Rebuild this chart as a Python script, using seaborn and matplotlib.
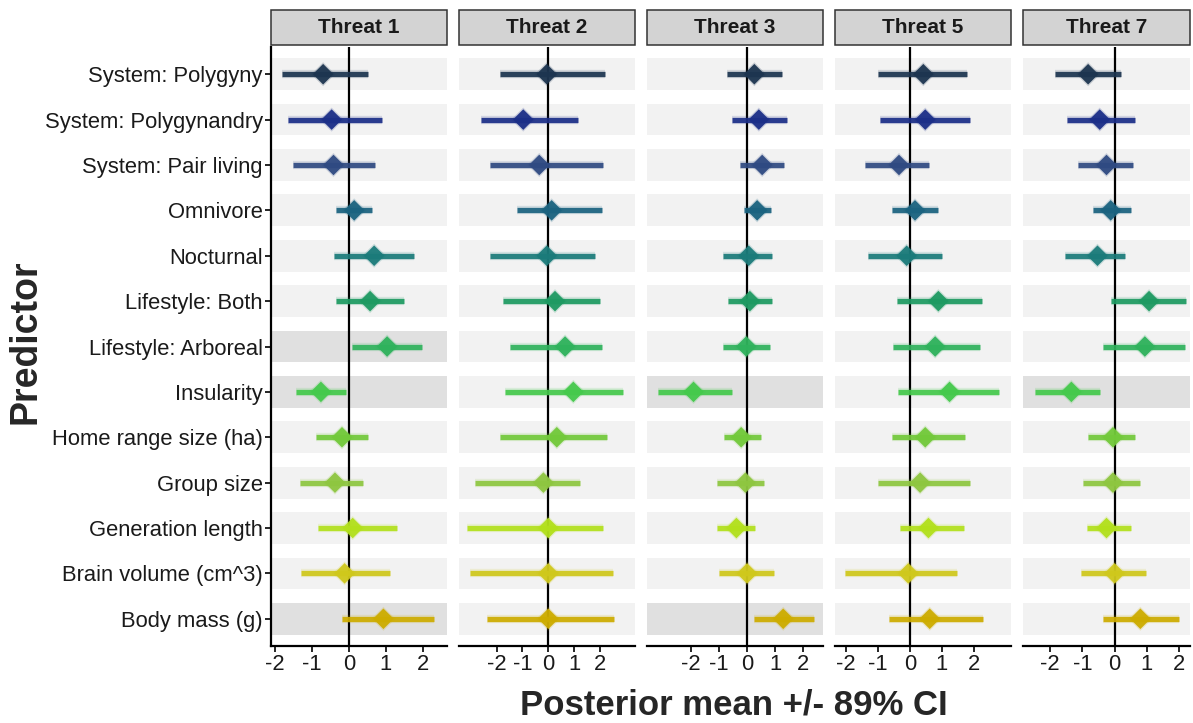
import numpy as np
import pandas as pd
import matplotlib
matplotlib.use("Agg")
import matplotlib.pyplot as plt
import seaborn as sns
from matplotlib.patches import Rectangle

# ---------------- data ----------------
predictors = ["System: Polygyny", "System: Polygynandry", "System: Pair living",
              "Omnivore", "Nocturnal", "Lifestyle: Both", "Lifestyle: Arboreal",
              "Insularity", "Home range size (ha)", "Group size",
              "Generation length", "Brain volume (cm^3)", "Body mass (g)"]
threats = ["Threat 1", "Threat 2", "Threat 3", "Threat 5", "Threat 7"]

t1_mean = [-0.70, -0.47, -0.42, 0.14, 0.68, 0.57, 1.03, -0.76, -0.19, -0.38, 0.10, -0.12, 0.93]
t1_lo   = [-1.82, -1.64, -1.51, -0.35, -0.40, -0.35, 0.08, -1.44, -0.90, -1.33, -0.84, -1.30, -0.20]
t1_hi   = [0.52, 0.89, 0.70, 0.62, 1.76, 1.50, 1.98, -0.08, 0.50, 0.38, 1.30, 1.10, 2.30]

t2_mean = [-0.06, -0.97, -0.35, 0.13, -0.06, 0.26, 0.65, 0.97, 0.33, -0.19, 0.00, 0.00, 0.00]
t2_lo   = [-1.87, -2.62, -2.26, -1.22, -2.26, -1.74, -1.48, -1.68, -1.87, -2.84, -3.16, -3.03, -2.39]
t2_hi   = [2.20, 1.16, 2.13, 2.07, 1.81, 2.00, 2.07, 2.91, 2.26, 1.23, 2.13, 2.52, 2.55]

t3_mean = [0.26, 0.42, 0.54, 0.36, 0.06, 0.10, -0.03, -1.91, -0.21, -0.06, -0.38, 0.00, 1.29]
t3_lo   = [-0.71, -0.54, -0.24, -0.12, -0.86, -0.69, -0.86, -3.16, -0.81, -1.07, -1.07, -1.01, 0.25]
t3_hi   = [1.25, 1.43, 1.31, 0.86, 0.89, 0.89, 0.83, -0.54, 0.48, 0.59, 0.30, 0.95, 2.40]

t5_mean = [0.42, 0.48, -0.34, 0.16, -0.10, 0.89, 0.79, 1.24, 0.48, 0.32, 0.58, -0.05, 0.62]
t5_lo   = [-0.99, -0.93, -1.40, -0.57, -1.30, -0.41, -0.52, -0.36, -0.57, -0.99, -0.31, -2.03, -0.65]
t5_hi   = [1.78, 1.89, 0.61, 0.89, 1.00, 2.25, 2.20, 2.77, 1.73, 1.89, 1.68, 1.47, 2.30]

t7_mean = [-0.82, -0.46, -0.25, -0.12, -0.53, 1.07, 0.94, -1.34, -0.05, -0.05, -0.25, 0.00, 0.80]
t7_lo   = [-1.86, -1.49, -1.13, -0.67, -1.55, -0.10, -0.36, -2.48, -0.82, -0.98, -0.87, -1.03, -0.37]
t7_hi   = [0.21, 0.63, 0.57, 0.52, 0.32, 2.23, 2.18, -0.46, 0.63, 0.78, 0.52, 0.99, 2.00]

# 89% CI excludes zero -> darker band
t1_sig = [0, 0, 0, 0, 0, 0, 1, 1, 0, 0, 0, 0, 1]
t2_sig = [0] * 13
t3_sig = [0, 0, 0, 0, 0, 0, 0, 1, 0, 0, 0, 0, 1]
t5_sig = [0] * 13
t7_sig = [0, 0, 0, 0, 0, 0, 0, 1, 0, 0, 0, 0, 0]

pred_colors = ["#1d3550", "#1c2f88", "#2f4a82", "#1b6380", "#1b7b7a", "#1e9a62",
               "#2fb25c", "#45c94c", "#72c93a", "#8ec640", "#b2e01c", "#cfc81c", "#cdac00"]

means = [t1_mean, t2_mean, t3_mean, t5_mean, t7_mean]
los = [t1_lo, t2_lo, t3_lo, t5_lo, t7_lo]
his = [t1_hi, t2_hi, t3_hi, t5_hi, t7_hi]
sigs = [t1_sig, t2_sig, t3_sig, t5_sig, t7_sig]

rows = []
for t, m, lo, hi, sg in zip(threats, means, los, his, sigs):
    for p, mm, l, h, s in zip(predictors, m, lo, hi, sg):
        rows.append(dict(threat=t, predictor=p, mean=mm, lo=l, hi=h, sig=s))
df = pd.DataFrame(rows)

# ---------------- style ----------------
sns.set_theme(style="white")
plt.rcParams["font.family"] = ["Liberation Sans", "DejaVu Sans"]

W, H = 1193, 723
fig = plt.figure(figsize=(W / 100, H / 100), dpi=100)

panel_left_px = [271, 459, 647, 835, 1023]
panel_w_px = [176, 176, 176, 176, 167]
top_px, bot_px = 47, 646
xlims = [(-2.11, 2.65), (-3.46, 3.36), (-3.57, 2.71), (-2.34, 3.16), (-2.84, 2.34)]

palette = dict(zip(predictors, pred_colors))
n = len(predictors)

for i, t in enumerate(threats):
    ax = fig.add_axes([panel_left_px[i] / W, 1 - bot_px / H,
                       panel_w_px[i] / W, (bot_px - top_px) / H])
    sub = df[df.threat == t]
    x0, x1 = xlims[i]
    band_cols = ["#e0e0e0" if s else "#f2f2f2" for s in sub.sig]
    ax.barh(sub.predictor, width=x1 - x0, left=x0, height=0.7,
            color=band_cols, edgecolor="none", zorder=0)
    ax.axvline(0, color="black", lw=1.6, zorder=1)
    cols = [palette[p] for p in sub.predictor]
    # soft halo + core interval line
    ax.hlines(sub.predictor, sub.lo, sub.hi, colors=cols, lw=6.0, alpha=0.15, zorder=2)
    ax.hlines(sub.predictor, sub.lo, sub.hi, colors=cols, lw=3.8, alpha=0.92, zorder=3)
    sns.scatterplot(data=sub, x="mean", y="predictor", hue="predictor",
                    palette=palette, marker="D", s=150, alpha=0.2,
                    linewidth=0, legend=False, ax=ax, zorder=4)
    sns.scatterplot(data=sub, x="mean", y="predictor", hue="predictor",
                    palette=palette, marker="D", s=110, alpha=0.95,
                    linewidth=0, legend=False, ax=ax, zorder=5)
    ax.set_xlim(x0, x1)
    ax.set_ylim(n - 0.4, -0.6)
    ax.set_xticks([-2, -1, 0, 1, 2])
    ax.set_xticklabels(["-2", "-1", "0", "1", "2"])
    ax.set_xlabel("")
    ax.set_ylabel("")
    for s in ["top", "right"]:
        ax.spines[s].set_visible(False)
    ax.spines["bottom"].set_color("black")
    ax.spines["bottom"].set_linewidth(1.6)
    ax.tick_params(axis="x", length=4, width=1.2, color="black", pad=2,
                   labelsize=15.8, labelcolor="#1a1a1a", bottom=True)
    if i == 0:
        ax.spines["left"].set_color("black")
        ax.spines["left"].set_linewidth(1.6)
        ax.tick_params(axis="y", length=4, width=1.2, color="black", pad=2,
                       labelsize=15.8, labelcolor="#1a1a1a", left=True)
    else:
        ax.spines["left"].set_visible(False)
        ax.tick_params(axis="y", left=False, labelleft=False)
    ax.grid(False)
    ax.set_facecolor("white")
    # strip
    strip_h = 35 / (bot_px - top_px)
    gap = 2 / (bot_px - top_px)
    ax.add_patch(Rectangle((0, 1 + gap), 1, strip_h, transform=ax.transAxes,
                           facecolor="#d3d3d3", edgecolor="#333333", lw=1.1,
                           clip_on=False, zorder=10))
    ax.text(0.5, 1 + gap + strip_h / 2, t, transform=ax.transAxes,
            ha="center", va="center", fontsize=15, fontweight="bold",
            color="#1a1a1a", zorder=11)

fig.text(25 / W, 1 - 342 / H, "Predictor", rotation=90, ha="center", va="center",
         fontsize=27, fontweight="bold")
fig.text(734 / W, 1 - 705 / H, "Posterior mean +/- 89% CI", ha="center", va="center",
         fontsize=25, fontweight="bold")

fig.savefig("out.png", dpi=100, facecolor="white")
